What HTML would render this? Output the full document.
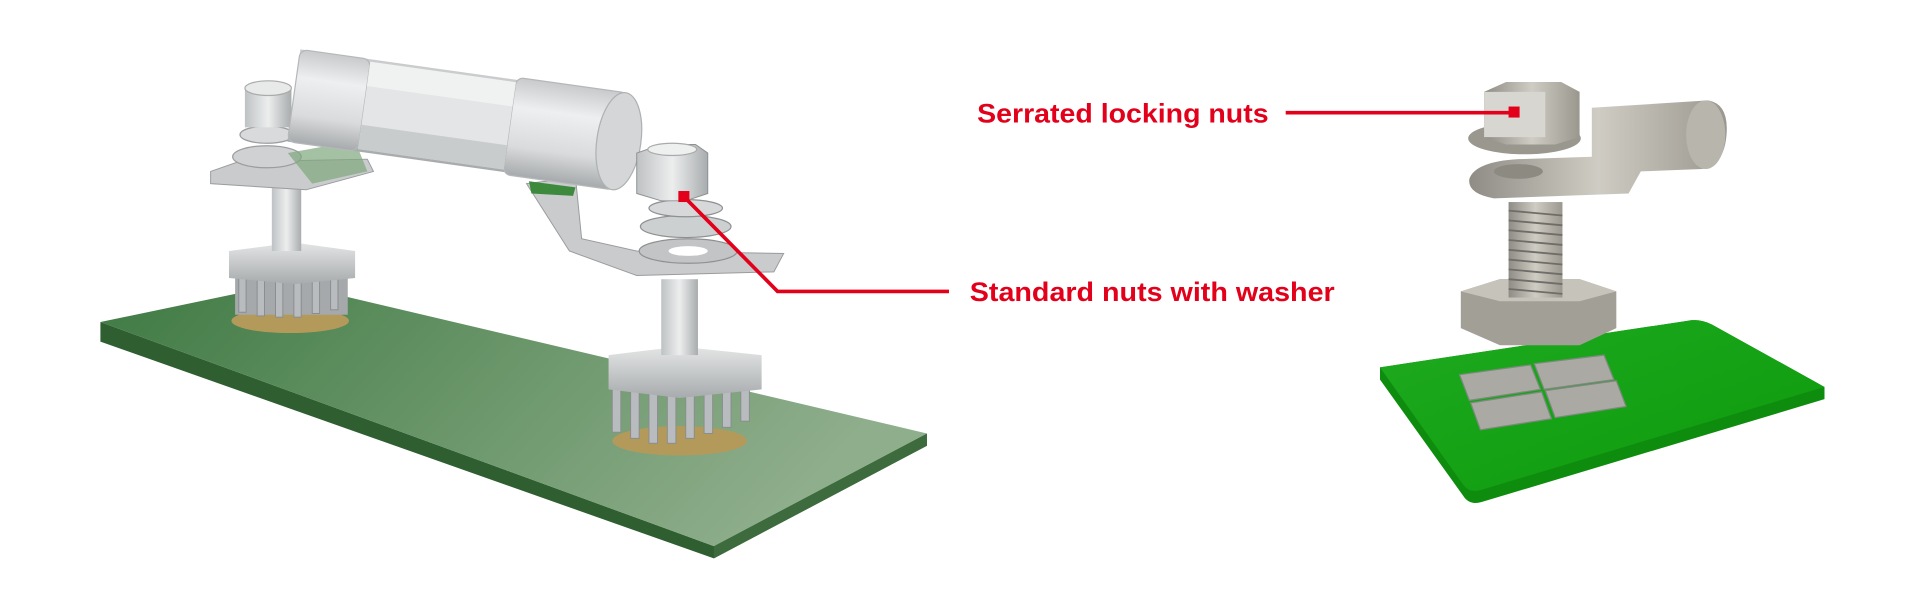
<!DOCTYPE html>
<html><head><meta charset="utf-8"><style>
html,body{margin:0;padding:0;background:#fff;}
svg{display:block;}
text{font-family:"Liberation Sans",sans-serif;font-weight:bold;fill:#e2001a;}
</style></head><body>
<svg width="1920" height="600" viewBox="0 0 1568 490" xmlns="http://www.w3.org/2000/svg">
<defs>
<linearGradient id="gtop" x1="0" y1="0" x2="1" y2="0.3">
<stop offset="0" stop-color="#3f7a43"/><stop offset="1" stop-color="#8fae8c"/></linearGradient>
<linearGradient id="met" x1="0" y1="0" x2="1" y2="0">
<stop offset="0" stop-color="#bfc2c4"/><stop offset="0.5" stop-color="#eceeee"/><stop offset="1" stop-color="#a9acae"/></linearGradient>
<linearGradient id="metv" x1="0" y1="0" x2="0" y2="1">
<stop offset="0" stop-color="#e4e6e6"/><stop offset="1" stop-color="#a8abad"/></linearGradient>
<linearGradient id="cyl" x1="0" y1="0" x2="0" y2="1">
<stop offset="0" stop-color="#c8cacb"/><stop offset="0.3" stop-color="#eeeff0"/><stop offset="0.7" stop-color="#d9dbdc"/><stop offset="1" stop-color="#a7aaac"/></linearGradient>
<linearGradient id="steel" x1="0" y1="0" x2="1" y2="0">
<stop offset="0" stop-color="#8e8c84"/><stop offset="0.5" stop-color="#cfccc4"/><stop offset="1" stop-color="#9a978e"/></linearGradient>
<linearGradient id="rg" x1="0" y1="0" x2="1" y2="1">
<stop offset="0" stop-color="#1faa1f"/><stop offset="1" stop-color="#0c9a0c"/></linearGradient>
</defs>

<!-- LEFT BOARD -->
<polygon points="82,279 583,456 757,364 757,354 583,446 82,263" fill="#2f5e30"/>
<polygon points="583,446 757,354 757,364 583,456" fill="#3d6b3d"/>
<polygon points="82,263 235,231 757,354 583,446" fill="url(#gtop)"/>

<!-- left pads & pins -->
<ellipse cx="237" cy="262" rx="48" ry="10" fill="#b49a5a"/>
<rect x="192" y="222" width="92" height="35" fill="#a6a9ab"/>
<g fill="#b9bcbe" stroke="#8a8d8f" stroke-width="0.8">
<rect x="195" y="225" width="6" height="30"/><rect x="210" y="226" width="6" height="32"/><rect x="225" y="227" width="6" height="32"/><rect x="240" y="227" width="6" height="32"/><rect x="255" y="226" width="6" height="30"/><rect x="270" y="225" width="6" height="28"/></g>
<polygon points="187,205 240,198 290,205 290,227 240,232 187,227" fill="url(#metv)"/>
<rect x="222" y="150" width="24" height="55" fill="url(#met)"/>

<!-- right pads & pins -->
<ellipse cx="555" cy="360" rx="55" ry="12" fill="#b49a5a"/>
<g fill="#b9bcbe" stroke="#8a8d8f" stroke-width="0.8">
<rect x="500" y="315" width="7" height="38"/><rect x="515" y="318" width="7" height="40"/><rect x="530" y="320" width="7" height="42"/><rect x="545" y="320" width="7" height="42"/><rect x="560" y="318" width="7" height="40"/><rect x="575" y="316" width="7" height="38"/><rect x="590" y="314" width="7" height="35"/><rect x="605" y="312" width="7" height="32"/></g>
<polygon points="497,290 555,283 622,290 622,318 555,325 497,318" fill="url(#metv)"/>
<rect x="540" y="228" width="30" height="62" fill="url(#met)"/>

<!-- left bracket & nut stack -->
<polygon points="172,140 195,132 300,130 305,140 250,155 172,150" fill="#c9cbcc" stroke="#9a9c9e" stroke-width="0.8"/>
<ellipse cx="218" cy="128" rx="28" ry="9" fill="#cfd1d2" stroke="#9a9c9e"/>
<ellipse cx="218" cy="110" rx="22" ry="7" fill="#d8dadb" stroke="#9a9c9e"/>
<rect x="200" y="72" width="38" height="32" fill="url(#met)"/>
<ellipse cx="219" cy="72" rx="19" ry="6" fill="#e8eaea" stroke="#aaa"/>
<polygon points="235,125 290,115 300,140 255,150" fill="#7fa67d" opacity="0.7"/>

<!-- right bracket -->
<polygon points="430,150 470,145 475,195 520,205 640,207 632,222 520,225 465,205" fill="#c9cbcc" stroke="#999b9d" stroke-width="0.8"/>

<!-- fuse (rotated cylinder) -->
<g transform="translate(240,78) rotate(8)">
<rect x="0" y="-38" width="270" height="76" fill="url(#cyl)"/>
<rect x="0" y="-38" width="58" height="76" rx="6" fill="url(#cyl)" stroke="#b5b8ba"/>
<rect x="178" y="-40" width="92" height="80" rx="6" fill="url(#cyl)" stroke="#b5b8ba"/>
<rect x="58" y="-36" width="120" height="72" fill="#e3e5e6"/>
<rect x="58" y="-36" width="120" height="20" fill="#f0f1f1"/>
<rect x="58" y="16" width="120" height="20" fill="#c9cccd"/>
<ellipse cx="268" cy="0" rx="18" ry="40" fill="#d4d6d7" stroke="#aeb1b3"/>
</g>
<polygon points="432,148 470,153 468,160 434,158" fill="#3d8a3d"/>

<!-- right nut stack -->
<ellipse cx="562" cy="205" rx="40" ry="10" fill="#c2c4c5" stroke="#8e9092"/>
<ellipse cx="562" cy="205" rx="16" ry="4" fill="#fff"/>
<ellipse cx="560" cy="185" rx="37" ry="9" fill="#cdd0d1" stroke="#8e9092"/>
<ellipse cx="560" cy="170" rx="30" ry="7" fill="#d6d8d9" stroke="#8e9092"/>
<polygon points="520,125 540,118 568,118 578,125 578,158 560,164 540,164 520,158" fill="url(#met)" stroke="#8e9092" stroke-width="0.8"/>
<ellipse cx="549" cy="122" rx="20" ry="5" fill="#eef0f0" stroke="#aaa"/>

<!-- RIGHT BOARD -->
<path d="M1127,300 L1378,262 Q1388,260 1398,265 L1490,316 L1490,326 L1210,410 Q1200,413 1195,405 L1127,310 Z" fill="#0e8c0e"/>
<path d="M1127,300 L1378,262 Q1388,260 1398,265 L1490,316 L1210,400 Q1200,403 1195,396 Z" fill="url(#rg)"/>
<g fill="#aaa9a4" stroke="#7c8a7c" stroke-width="1">
<polygon points="1192,306 1250,298 1258,318 1200,327"/>
<polygon points="1253,297 1310,290 1318,310 1261,318"/>
<polygon points="1201,329 1259,320 1267,342 1209,351"/>
<polygon points="1262,319 1320,311 1328,332 1270,341"/>
</g>
<!-- t-nut -->
<polygon points="1193,238 1225,228 1290,228 1320,238 1320,268 1290,282 1225,282 1193,268" fill="#a29f97"/>
<polygon points="1193,238 1225,228 1290,228 1320,238 1290,246 1225,246" fill="#c6c3bb"/>
<!-- bolt -->
<rect x="1232" y="165" width="44" height="78" fill="url(#steel)"/>
<g stroke="#6f6d67" stroke-width="1.5">
<line x1="1232" y1="172" x2="1276" y2="176"/><line x1="1232" y1="180" x2="1276" y2="184"/><line x1="1232" y1="188" x2="1276" y2="192"/><line x1="1232" y1="196" x2="1276" y2="200"/><line x1="1232" y1="204" x2="1276" y2="208"/><line x1="1232" y1="212" x2="1276" y2="216"/><line x1="1232" y1="220" x2="1276" y2="224"/><line x1="1232" y1="228" x2="1276" y2="232"/><line x1="1232" y1="236" x2="1276" y2="240"/></g>
<!-- lug -->
<path d="M1300,88 L1395,82 Q1412,85 1410,110 Q1408,135 1390,138 L1340,140 L1330,158 L1220,162 Q1198,158 1200,146 Q1205,132 1240,130 L1300,128 Z" fill="url(#steel)"/>
<ellipse cx="1393" cy="110" rx="16" ry="28" fill="#b8b5ac"/>
<ellipse cx="1240" cy="140" rx="20" ry="6" fill="#8d8a82"/>
<!-- flange nut -->
<ellipse cx="1245" cy="113" rx="46" ry="13" fill="#9a978f"/>
<polygon points="1212,75 1230,67 1275,67 1290,75 1290,112 1270,118 1230,118 1212,112" fill="url(#steel)"/>
<polygon points="1212,75 1262,75 1262,112 1212,112" fill="#d8d6d0"/>

<!-- LABELS -->
<text x="798" y="100" font-size="22" textLength="238" lengthAdjust="spacingAndGlyphs">Serrated locking nuts</text>
<line x1="1050" y1="92" x2="1236" y2="92" stroke="#e2001a" stroke-width="3"/>
<rect x="1232" y="87" width="9" height="9" fill="#e2001a"/>
<text x="792" y="246" font-size="22" textLength="298" lengthAdjust="spacingAndGlyphs">Standard nuts with washer</text>
<polyline points="775,238 635,238 558,160" fill="none" stroke="#e2001a" stroke-width="3"/>
<rect x="554" y="156" width="9" height="9" fill="#e2001a"/>
</svg>
</body></html>
